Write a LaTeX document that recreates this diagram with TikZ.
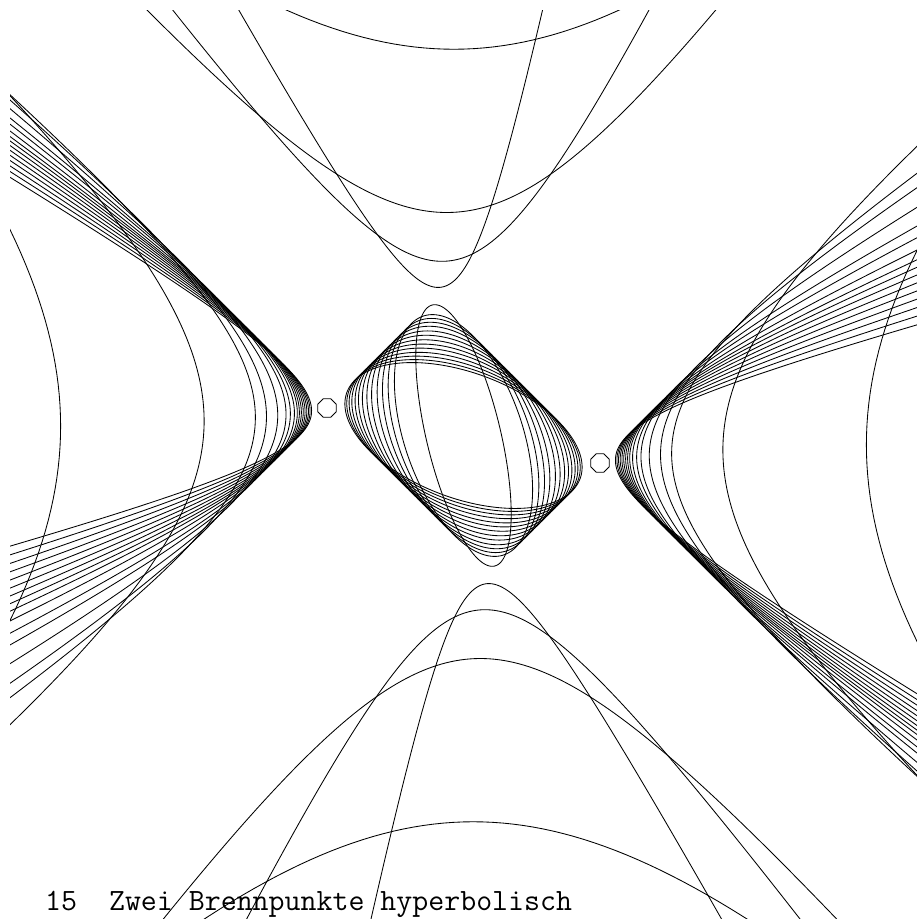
\documentclass[tikz,border=0pt]{standalone}
\usepackage{fontspec}
\usetikzlibrary{shapes.geometric}
\begin{document}
\begin{tikzpicture}[x=1pt,y=-1pt,
  conic/.style={line width=0.85pt, black},
  focus/.style={draw, line width=0.85pt, regular polygon, regular polygon sides=8, minimum size=20pt, inner sep=0pt},
  caption/.style={anchor=base west, inner sep=0pt, font=\fontsize{31}{31}\selectfont\ttfamily}]
\useasboundingbox (0,0) rectangle (917,919);
\fill[white] (0,0) rectangle (917,919);
\begin{scope}
\clip (10,10) rectangle (917,919);
% ellipses inscribed in the light-cone quadrilateral (angle = arccos c)
\foreach \ph in {146.1,123.4,116.7,110.5,104.5,98.0,92.3,86.6,81.4,76.7,71.9,67.7,63.9,60.7} {
  \draw[conic] plot[domain=0:360, samples=241, variable=\t]
    ({463.5+54.5*cos(\t)+82*cos(\t-\ph)}, {435.5-54.5*cos(\t)+82*cos(\t-\ph)}) -- cycle;
}
% left / right hyperbolas
\foreach \ps in {0.96,1.005,1.05,1.095,1.14,1.185,1.23,1.275,1.32,1.38,1.46,1.54,1.68,1.85,2.0,2.55,3.53} {
  \draw[conic] plot[domain=-3.3:3.3, samples=241, variable=\v]
    ({463.5-54.5*cosh(\ps/2+(\v))-82*cosh((\v)-\ps/2)}, {435.5+54.5*cosh(\ps/2+(\v))-82*cosh((\v)-\ps/2)});
  \draw[conic] plot[domain=-3.3:3.3, samples=241, variable=\v]
    ({463.5+54.5*cosh(\ps/2+(\v))+82*cosh((\v)-\ps/2)}, {435.5-54.5*cosh(\ps/2+(\v))+82*cosh((\v)-\ps/2)});
}
% top / bottom hyperbolas
\foreach \ch in {0.834,1.48,2.18,3.44} {
  \draw[conic] plot[domain=-3.3:3.3, samples=241, variable=\v]
    ({463.5+54.5*cosh(\ch/2+(\v))-82*cosh((\v)-\ch/2)}, {435.5-54.5*cosh(\ch/2+(\v))-82*cosh((\v)-\ch/2)});
  \draw[conic] plot[domain=-3.3:3.3, samples=241, variable=\v]
    ({463.5-54.5*cosh(\ch/2+(\v))+82*cosh((\v)-\ch/2)}, {435.5+54.5*cosh(\ch/2+(\v))+82*cosh((\v)-\ch/2)});
}
\end{scope}
\node[focus] (F1) at (327,408) {};
\node[focus] (F2) at (600,463) {};
\node[caption] (cap) at (45,910) {15\ \ Zwei Brennpunkte hyperbolisch};
\end{tikzpicture}
\end{document}
